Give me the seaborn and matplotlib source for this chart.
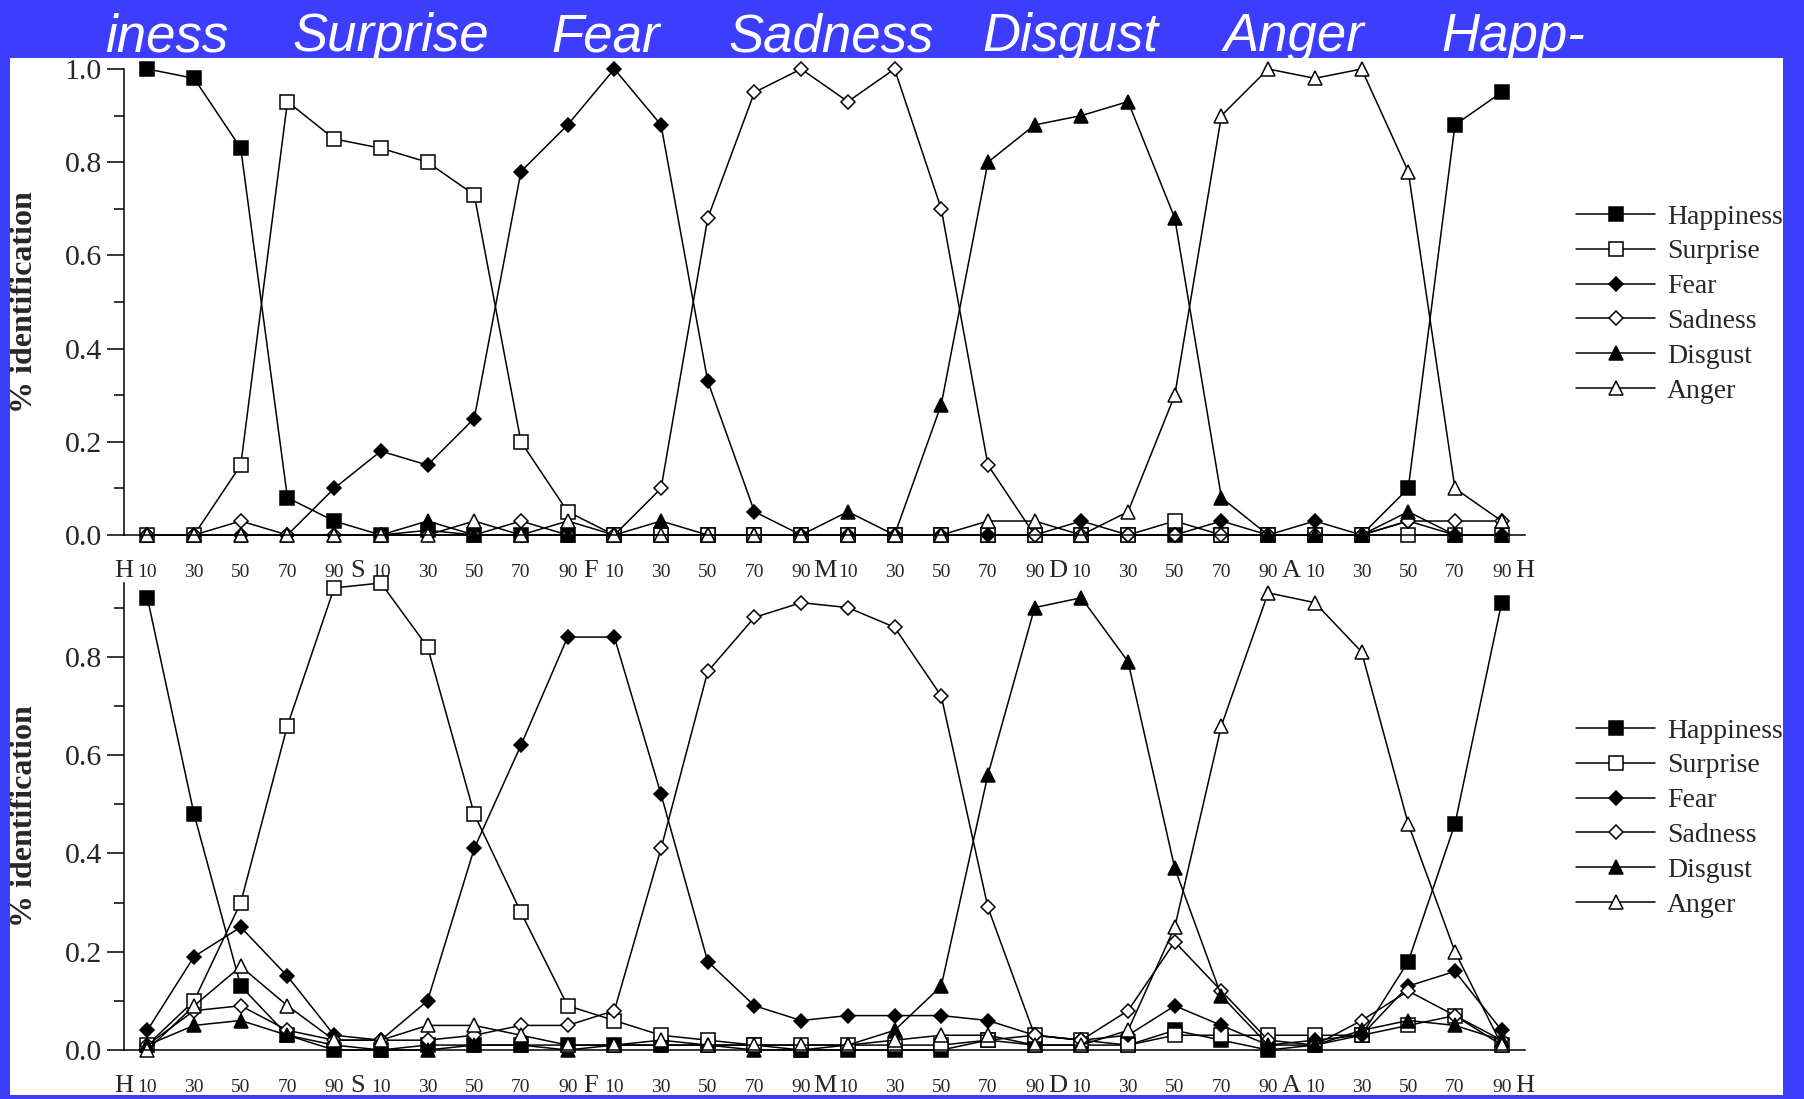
import numpy as np
import pandas as pd
import seaborn as sns
import matplotlib.pyplot as plt
from matplotlib.patches import Rectangle
from matplotlib.ticker import MultipleLocator

# morph steps (percent) and the pure emotions between them
steps = ['10', '30', '50', '70', '90']
anchors = ['H', 'S', 'F', 'M', 'D', 'A', 'H']
emotions = ['Happiness', 'Surprise', 'Fear', 'Sadness', 'Disgust', 'Anger']
header_labels = ['iness', 'Surprise', 'Fear', 'Sadness', 'Disgust', 'Anger', 'Happ-']

# upper panel (% identification)
happiness_top = [1.00, 0.98, 0.83, 0.08, 0.03, 0.00, 0.01, 0.00, 0.00, 0.00,
                 0.00, 0.00, 0.00, 0.00, 0.00, 0.00, 0.00, 0.00, 0.00, 0.00,
                 0.00, 0.00, 0.00, 0.00, 0.00, 0.00, 0.00, 0.10, 0.88, 0.95]
surprise_top = [0.00, 0.00, 0.15, 0.93, 0.85, 0.83, 0.80, 0.73, 0.20, 0.05,
                0.00, 0.00, 0.00, 0.00, 0.00, 0.00, 0.00, 0.00, 0.00, 0.00,
                0.00, 0.00, 0.03, 0.00, 0.00, 0.00, 0.00, 0.00, 0.00, 0.00]
fear_top = [0.00, 0.00, 0.00, 0.00, 0.10, 0.18, 0.15, 0.25, 0.78, 0.88,
            1.00, 0.88, 0.33, 0.05, 0.00, 0.00, 0.00, 0.00, 0.00, 0.00,
            0.03, 0.00, 0.00, 0.03, 0.00, 0.03, 0.00, 0.03, 0.00, 0.00]
sadness_top = [0.00, 0.00, 0.03, 0.00, 0.00, 0.00, 0.00, 0.00, 0.03, 0.00,
               0.00, 0.10, 0.68, 0.95, 1.00, 0.93, 1.00, 0.70, 0.15, 0.00,
               0.00, 0.00, 0.00, 0.00, 0.00, 0.00, 0.00, 0.03, 0.03, 0.03]
disgust_top = [0.00, 0.00, 0.00, 0.00, 0.00, 0.00, 0.03, 0.00, 0.00, 0.00,
               0.00, 0.03, 0.00, 0.00, 0.00, 0.05, 0.00, 0.28, 0.80, 0.88,
               0.90, 0.93, 0.68, 0.08, 0.00, 0.00, 0.00, 0.05, 0.00, 0.00]
anger_top = [0.00, 0.00, 0.00, 0.00, 0.00, 0.00, 0.00, 0.03, 0.00, 0.03,
             0.00, 0.00, 0.00, 0.00, 0.00, 0.00, 0.00, 0.00, 0.03, 0.03,
             0.00, 0.05, 0.30, 0.90, 1.00, 0.98, 1.00, 0.78, 0.10, 0.03]

# lower panel
happiness_bot = [0.92, 0.48, 0.13, 0.03, 0.00, 0.00, 0.01, 0.01, 0.01, 0.01,
                 0.01, 0.01, 0.01, 0.01, 0.00, 0.00, 0.00, 0.00, 0.02, 0.01,
                 0.01, 0.01, 0.04, 0.02, 0.00, 0.01, 0.03, 0.18, 0.46, 0.91]
surprise_bot = [0.01, 0.10, 0.30, 0.66, 0.94, 0.95, 0.82, 0.48, 0.28, 0.09,
                0.06, 0.03, 0.02, 0.01, 0.01, 0.01, 0.01, 0.01, 0.02, 0.03,
                0.02, 0.01, 0.03, 0.03, 0.03, 0.03, 0.03, 0.05, 0.07, 0.01]
fear_bot = [0.04, 0.19, 0.25, 0.15, 0.03, 0.02, 0.10, 0.41, 0.62, 0.84,
            0.84, 0.52, 0.18, 0.09, 0.06, 0.07, 0.07, 0.07, 0.06, 0.03,
            0.02, 0.03, 0.09, 0.05, 0.01, 0.02, 0.03, 0.13, 0.16, 0.04]
sadness_bot = [0.01, 0.08, 0.09, 0.04, 0.02, 0.02, 0.02, 0.03, 0.05, 0.05,
               0.08, 0.41, 0.77, 0.88, 0.91, 0.90, 0.86, 0.72, 0.29, 0.03,
               0.02, 0.08, 0.22, 0.12, 0.02, 0.01, 0.06, 0.12, 0.07, 0.02]
disgust_bot = [0.01, 0.05, 0.06, 0.03, 0.01, 0.00, 0.00, 0.01, 0.01, 0.00,
               0.01, 0.01, 0.01, 0.00, 0.00, 0.01, 0.04, 0.13, 0.56, 0.90,
               0.92, 0.79, 0.37, 0.11, 0.01, 0.01, 0.04, 0.06, 0.05, 0.02]
anger_bot = [0.00, 0.09, 0.17, 0.09, 0.02, 0.02, 0.05, 0.05, 0.03, 0.01,
             0.01, 0.02, 0.01, 0.01, 0.01, 0.01, 0.02, 0.03, 0.03, 0.01,
             0.01, 0.04, 0.25, 0.66, 0.93, 0.91, 0.81, 0.46, 0.20, 0.01]

top_series = [happiness_top, surprise_top, fear_top, sadness_top, disgust_top, anger_top]
bot_series = [happiness_bot, surprise_bot, fear_bot, sadness_bot, disgust_bot, anger_bot]

# marker style per emotion: (marker, face, size)
styles = {
    'Happiness': ('s', 'black', 10),
    'Surprise': ('s', 'white', 10),
    'Fear': ('D', 'black', 7.5),
    'Sadness': ('D', 'white', 7.5),
    'Disgust': ('^', 'black', 10),
    'Anger': ('^', 'white', 10),
}

BLUE = '#3d3dfe'
SERIF = 'Liberation Serif'

sns.set_theme(style='ticks')
plt.rcParams['font.family'] = SERIF

fig = plt.figure(figsize=(18.04, 10.99), dpi=100)
fig.patch.set_facecolor(BLUE)
W, H = 1804, 1099

# white slide panel
fig.add_artist(Rectangle((10 / W, 1 - 1095 / H), 1773 / W, (1095 - 58) / H,
                         transform=fig.transFigure, facecolor='white',
                         edgecolor='none', zorder=-5))


def draw_panel(rect, series, ymax, legend_y):
    ax = fig.add_axes(rect)
    ax.set_facecolor('none')
    n = len(steps) * (len(anchors) - 1)
    x = np.arange(n)
    df = pd.DataFrame({name: vals for name, vals in zip(emotions, series)})
    df['x'] = x
    for name in emotions:
        mk, face, ms = styles[name]
        sns.lineplot(data=df, x='x', y=name, ax=ax, color='black', lw=1.1,
                     marker=mk, markerfacecolor=face, markeredgecolor='black',
                     markeredgewidth=1.1, markersize=ms, label=name,
                     clip_on=False, legend=False)
    ax.set_xlim(-0.5, n - 0.5)
    ax.set_ylim(0, ymax)
    ax.set_xlabel('')
    ax.set_ylabel('% identification', fontsize=23, fontweight='bold',
                  family=SERIF)
    ax.yaxis.set_label_coords(-0.0605, 0.5)

    ax.set_xticks(x)
    ax.set_xticklabels(steps * (len(anchors) - 1), fontsize=14)
    ax.tick_params(axis='x', length=0, pad=21)
    ax.yaxis.set_major_locator(MultipleLocator(0.2))
    ax.yaxis.set_minor_locator(MultipleLocator(0.1))
    ax.yaxis.set_major_formatter(plt.FuncFormatter(lambda v, p: f'{v:.1f}'))
    ax.tick_params(axis='y', which='major', length=12, width=1.1,
                   labelsize=21.5, pad=4, direction='out', color='black')
    ax.tick_params(axis='y', which='minor', length=7, width=1.1,
                   direction='out', color='black')
    for lab in ax.get_yticklabels():
        lab.set_family(SERIF)

    for k, letter in enumerate(anchors):
        ax.annotate(letter, xy=(k * len(steps) - 0.5, 0),
                    xycoords=('data', 'axes fraction'),
                    xytext=(0, -30.5), textcoords='offset points',
                    ha='center', va='baseline', fontsize=19, family=SERIF)

    sns.despine(ax=ax)
    for side in ['left', 'bottom']:
        ax.spines[side].set_linewidth(1.1)
        ax.spines[side].set_color('black')

    handles = ax.get_lines()[:len(emotions)]
    ax.legend(handles, emotions, loc='center left',
              bbox_to_anchor=(1576 / W, legend_y),
              bbox_transform=fig.transFigure, frameon=False,
              fontsize=20, numpoints=1, handlelength=2.85,
              handletextpad=0.42, labelspacing=0.34, borderpad=0,
              borderaxespad=0)
    return ax


left = 124 / W
width = (1525 - 124) / W
draw_panel([left, 1 - 535 / H, width, (535 - 69) / H], top_series, 1.0,
           1 - 304 / H)
draw_panel([left, 1 - 1050 / H, width, (1050 - 583) / H], bot_series, 0.95,
           1 - 818 / H)

# slide header labels
header_x = [167, 391, 606, 831, 1070, 1294, 1513]
for label, hx in zip(header_labels, header_x):
    fig.text(hx / W, 1 - 51 / H, label, color='white', fontsize=38,
             style='italic', family='Liberation Sans', ha='center',
             va='baseline')

# blue slide border over the clipped label edge
fig.add_artist(Rectangle((0, 0), 10 / W, 1, transform=fig.transFigure,
                         facecolor=BLUE, edgecolor='none', zorder=20))

fig.savefig('out.png', dpi=100, facecolor=fig.get_facecolor())
